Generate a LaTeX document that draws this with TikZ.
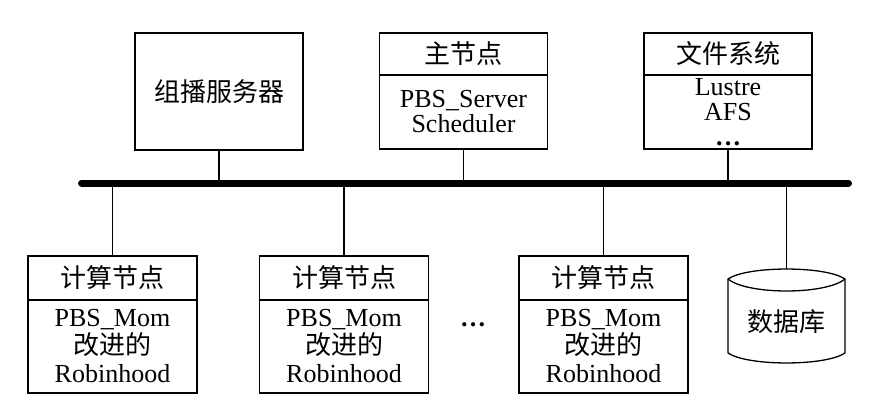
\documentclass[tikz,border=0pt]{standalone}
\usepackage{fontspec}
\setmainfont{Liberation Serif}
\newfontfamily\cjk{Noto Sans CJK SC}
\usetikzlibrary{positioning}

\newcommand\picsize{\fontsize{26}{28}\selectfont}

\tikzset{
  box/.style={draw, line width=1.3pt, inner sep=0pt, outer sep=0pt, align=center, minimum width=168pt},
  head/.style={box, minimum height=42pt, font=\picsize\cjk},
  body/.style={box, minimum height=74pt},
  chead/.style={box, minimum width=169pt, minimum height=44pt, font=\picsize\cjk},
  cbody/.style={box, minimum width=169pt, minimum height=93pt},
  bus/.style={line width=7pt, line cap=round},
  link/.style={line width=1.3pt}
}

\begin{document}
\begin{tikzpicture}[x=1pt, y=-1pt, font=\picsize]
    \useasboundingbox (0,0) rectangle (878,420);

    % Bus
    \coordinate (busL) at (81.5,183);
    \coordinate (busR) at (848.5,183);

    % Top row
    \node[box, minimum height=117pt, font=\picsize\cjk] (srv) at (219,91.5) {组播服务器};

    \node[head] (mhead) at (463.5,54) {主节点};
    \node[body, below=0pt of mhead, font=\fontsize{26}{25}\selectfont] (mbody) {PBS\_Server\\Scheduler};

    \node[head] (fhead) at (728,54) {文件系统};
    \node[body, below=0pt of fhead, font=\fontsize{26}{25}\selectfont] (fbody) {Lustre\\AFS\\\textbf{…}};

    % Compute nodes
    \node[chead] (c1head) at (112.5,278) {计算节点};
    \node[cbody, below=0pt of c1head] (c1body) {PBS\_Mom\\{\cjk 改进的}\\Robinhood};

    \node[chead] (c2head) at (344,278) {计算节点};
    \node[cbody, below=0pt of c2head] (c2body) {PBS\_Mom\\{\cjk 改进的}\\Robinhood};

    \node[font=\picsize\bfseries] (more) at (473,325) {…};

    \node[chead] (c3head) at (603.5,278) {计算节点};
    \node[cbody, below=0pt of c3head] (c3body) {PBS\_Mom\\{\cjk 改进的}\\Robinhood};

    % Database
    \coordinate (dbtop) at (786.5,269);
    \draw[link] (728,279) .. controls (747.5,265.7) and (825.5,265.7) .. (845,279)
      -- (845,353) .. controls (825.5,366.3) and (747.5,366.3) .. (728,353) -- cycle;
    \draw[link] (728,279) .. controls (747.5,295) and (825.5,295) .. (845,279);
    \node[font=\picsize\cjk] (db) at (786.5,322) {数据库};

    % Links to the bus
    \draw[link] (srv.south) -- (srv.south |- busL);
    \draw[link] (mbody.south) -- (mbody.south |- busL);
    \draw[link] (fbody.south) -- (fbody.south |- busL);
    \draw[link] (c1head.north) -- (c1head.north |- busL);
    \draw[link] (c2head.north) -- (c2head.north |- busL);
    \draw[link] (c3head.north) -- (c3head.north |- busL);
    \draw[link] (dbtop) -- (dbtop |- busL);

    \draw[bus] (busL) -- (busR);
\end{tikzpicture}
\end{document}
